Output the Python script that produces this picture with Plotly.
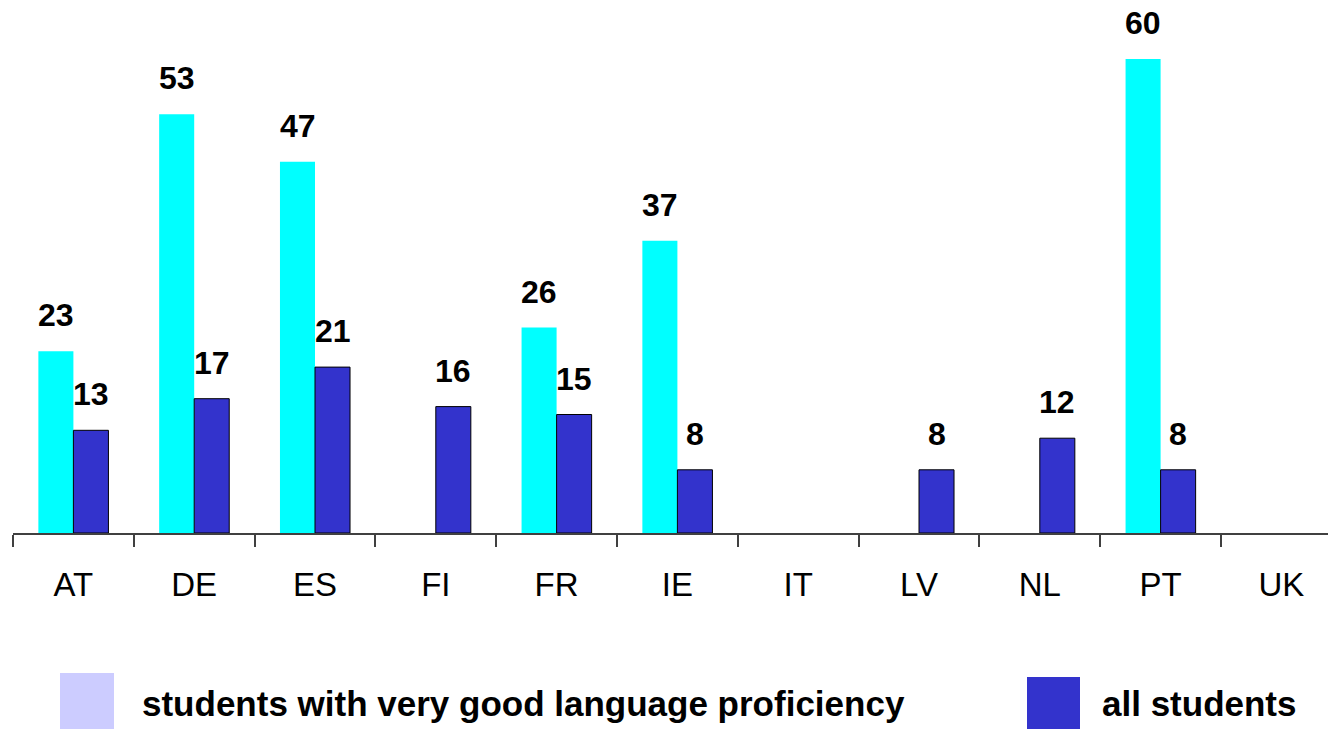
import plotly.graph_objects as go

countries = ["AT", "DE", "ES", "FI", "FR", "IE", "IT", "LV", "NL", "PT", "UK"]
very_good = [23, 53, 47, None, 26, 37, None, None, None, 60, None]
all_students = [13, 17, 21, 16, 15, 8, None, 8, 12, 8, None]

series_names = ["students with very good language proficiency", "all students"]
bar_colors = ["#00ffff", "#3333cc"]
legend_colors = ["#ccccff", "#3333cc"]

W, H = 1328, 729
left, plot_bottom = 13, 533
plot_w = W - left
cat_px = 120.8
px_per_unit = 7.9

fig = go.Figure()
fig.add_trace(go.Bar(x=countries, y=very_good, name=series_names[0],
                     marker=dict(color=bar_colors[0], line=dict(width=0))))
fig.add_trace(go.Bar(x=countries, y=all_students, name=series_names[1],
                     marker=dict(color=bar_colors[1], line=dict(color="#000000", width=1))))

# value labels above the bars
lab_font = dict(family="Liberation Sans, Arial", size=32, color="#000000")
for vals, shift in [(very_good, -17.5), (all_students, 17.5)]:
    for c, v in zip(countries, vals):
        if v is None:
            continue
        fig.add_annotation(x=c, y=v, text="<b>%d</b>" % v, showarrow=False,
                           xshift=shift, yshift=16, yanchor="bottom", font=lab_font)

# hand made legend (big squares), positions in page pixels
def px_x(p):
    return (p - left) / plot_w

def px_y(p):
    return (plot_bottom - p) / plot_bottom

leg_items = [(60, 114, 673, 140), (1027, 1080, 677, 1100)]
for (x0, x1, y0, tx), name, col in zip(leg_items, series_names, legend_colors):
    fig.add_shape(type="rect", xref="paper", yref="paper",
                  x0=px_x(x0), x1=px_x(x1), y0=px_y(729), y1=px_y(y0),
                  fillcolor=col, line=dict(width=0))
    fig.add_annotation(xref="paper", yref="paper", x=px_x(tx), y=px_y(703),
                       text="<b>%s</b>" % name, showarrow=False,
                       xanchor="left", yanchor="middle",
                       font=dict(family="Liberation Sans, Arial", size=35, color="#000000"))

fig.update_layout(
    width=W, height=H,
    margin=dict(l=left, r=0, t=0, b=H - plot_bottom, pad=0),
    paper_bgcolor="white", plot_bgcolor="white",
    barmode="group", bargap=0.42, bargroupgap=0,
    showlegend=False,
    xaxis=dict(type="category", range=[-0.5, -0.5 + plot_w / cat_px],
               showline=True, linecolor="#404040", linewidth=1.5,
               ticks="outside", tickson="boundaries", ticklen=12,
               tickcolor="#404040", tickwidth=1.5, ticklabelstandoff=22,
               showgrid=False, zeroline=False,
               tickfont=dict(family="Liberation Sans, Arial", size=33, color="#000000")),
    yaxis=dict(range=[0, plot_bottom / px_per_unit], visible=False,
               showgrid=False, zeroline=False),
)

# drop the default page margin so the figure sits in the corner
fig.write_html("out.html", config={"displayModeBar": False},
               post_script="document.body.style.margin='0px';")
